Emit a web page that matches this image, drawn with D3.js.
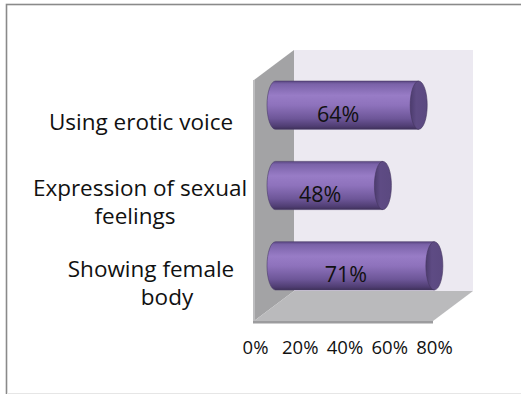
<!DOCTYPE html>
<html><head><meta charset="utf-8">
<script src="https://cdn.jsdelivr.net/npm/d3@7"></script>
<style>html,body{margin:0;padding:0;background:#fff;}svg{display:block;}</style>
</head><body>
<svg id="chart" width="521" height="394"></svg>
<script>
const categories = ["Using erotic voice", "Expression of sexual feelings", "Showing female body"];
const categoryLines = [["Using erotic voice"], ["Expression of sexual", "feelings"], ["Showing female", "body"]];
const values = [64, 48, 71];
const tickValues = [0, 20, 40, 60, 80];

const svg = d3.select("#chart");
const font = "'Open Sans', 'Noto Sans', sans-serif";

// outer border
svg.append("rect").attr("x", 6.5).attr("y", 4.5).attr("width", 540).attr("height", 389.5)
  .attr("fill", "#fff").attr("stroke", "#8a8a8a").attr("stroke-width", 1.6);
svg.append("line").attr("x1", 7).attr("x2", 521).attr("y1", 393.5).attr("y2", 393.5)
  .attr("stroke", "#e6e6e6").attr("stroke-width", 1);

// 3D frame geometry
const depth = {dx: 40, dy: -30};
const x = d3.scaleLinear().domain([0, 80]).range([254, 433]);
const yFront = {top: 80, bottom: 321};
const y = d3.scaleBand().domain(categories).range([yFront.top, yFront.bottom]).paddingInner(0.4).paddingOuter(0.2);

const defs = svg.append("defs");
const gb = defs.append("linearGradient").attr("id", "body").attr("x1", 0).attr("y1", 0).attr("x2", 0).attr("y2", 1);
[[0, "#5a4782"], [0.06, "#7a62a8"], [0.3, "#987cc6"], [0.5, "#8e72bc"], [0.78, "#6d5698"], [0.94, "#4f3d72"], [1, "#3e3058"]]
  .forEach(([o, c]) => gb.append("stop").attr("offset", o).attr("stop-color", c));
const gc = defs.append("linearGradient").attr("id", "cap").attr("x1", 0).attr("y1", 0).attr("x2", 1).attr("y2", 0);
[[0, "#4c3c6e"], [0.35, "#5e4b84"], [1, "#5b4980"]]
  .forEach(([o, c]) => gc.append("stop").attr("offset", o).attr("stop-color", c));

const x0 = x(0), x1 = x(80);
// back wall
svg.append("rect").attr("x", x0 + depth.dx).attr("y", yFront.top + depth.dy)
  .attr("width", x1 - x0).attr("height", yFront.bottom - yFront.top)
  .attr("fill", "#ece9f1");
// side wall
svg.append("polygon").attr("points", [
  [x0, yFront.top], [x0 + depth.dx, yFront.top + depth.dy],
  [x0 + depth.dx, yFront.bottom + depth.dy], [x0, yFront.bottom]].join(" "))
  .attr("fill", "#a3a3a5");
svg.append("rect").attr("x", x0 - 1).attr("y", yFront.top).attr("width", 2).attr("height", yFront.bottom - yFront.top)
  .attr("fill", "#bdbdbf");
// floor
svg.append("polygon").attr("points", [
  [x0, yFront.bottom], [x0 + depth.dx, yFront.bottom + depth.dy],
  [x1 + depth.dx, yFront.bottom + depth.dy], [x1, yFront.bottom]].join(" "))
  .attr("fill", "#bababc");
svg.append("rect").attr("x", x0 - 1).attr("y", yFront.bottom).attr("width", x1 - x0 + 1).attr("height", 2.5)
  .attr("fill", "#9c9c9e");

// bars (cylinders at mid depth)
const mdx = depth.dx / 2 + 1.5, mdy = depth.dy / 2;
const rx = 8.5;
const bars = svg.append("g");
categories.forEach((c, i) => {
  const xa = x(0) + mdx, xb = x(values[i]) + mdx;
  const top = y(c) + mdy, h = y.bandwidth(), bot = top + h, ry = h / 2, cy = top + ry;
  bars.append("path")
    .attr("d", `M${xa},${top} L${xb},${top} L${xb},${bot} L${xa},${bot} A${rx},${ry} 0 0 1 ${xa},${top} Z`)
    .attr("fill", "url(#body)").attr("stroke", "#4a3a6a").attr("stroke-width", 0.6);
  bars.append("ellipse").attr("cx", xb).attr("cy", cy).attr("rx", rx).attr("ry", ry)
    .attr("fill", "url(#cap)").attr("stroke", "#45365f").attr("stroke-width", 0.6);
  bars.append("text").attr("x", (xa + xb) / 2 - 9).attr("y", cy + 9).attr("dy", "0.35em")
    .attr("text-anchor", "middle").attr("font-family", font).attr("font-size", 21.5).attr("fill", "#111")
    .text(values[i] + "%");
});

// category labels
const labelCenters = [141, 140, 151];
categories.forEach((c, i) => {
  const lines = categoryLines[i];
  const cyF = y(c) + y.bandwidth() / 2;
  lines.forEach((ln, j) => {
    svg.append("text").attr("x", labelCenters[i] + (j > 0 ? (i === 1 ? -5 : 16) : 0))
      .attr("y", cyF + (j - (lines.length - 1) / 2) * 28 + 2).attr("dy", "0.35em")
      .attr("text-anchor", "middle").attr("font-family", font).attr("font-size", 22.5).attr("fill", "#111")
      .text(ln);
  });
});

// x axis
const axis = d3.axisBottom(x).tickValues(tickValues).tickSize(0).tickPadding(0).tickFormat(d => d + "%");
const gAxis = svg.append("g").attr("transform", `translate(1,341)`).call(axis);
gAxis.select(".domain").remove();
gAxis.selectAll("text").attr("font-family", font).attr("font-size", 18.5).attr("fill", "#111");
</script>
</body></html>
